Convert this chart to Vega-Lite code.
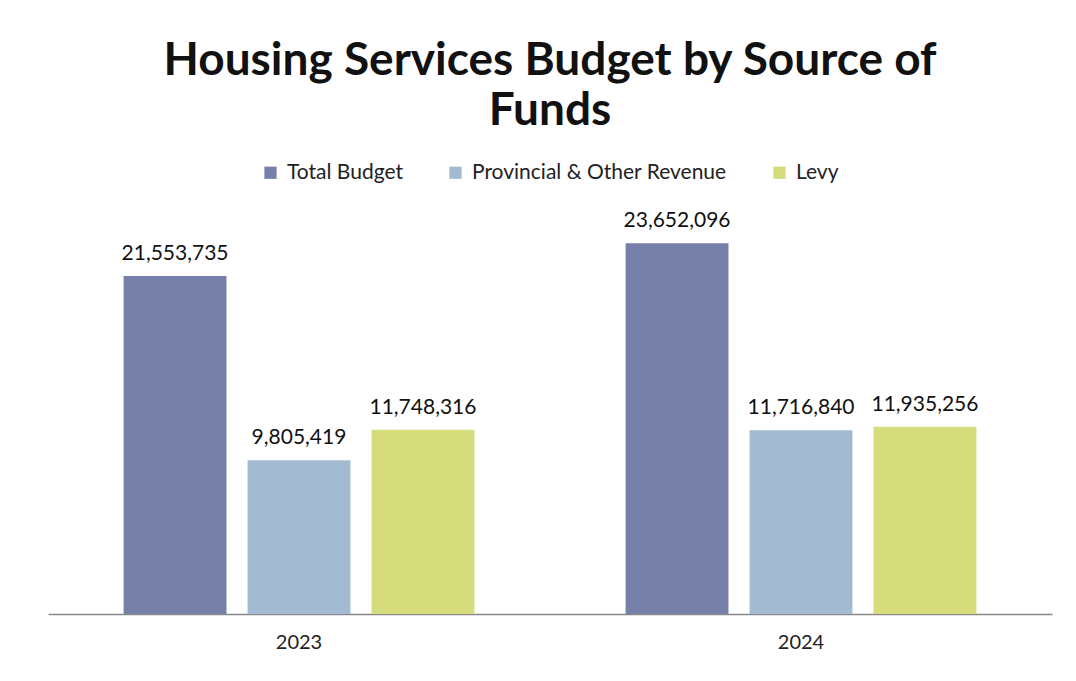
{
  "$schema": "https://vega.github.io/schema/vega-lite/v6.json",
  "width": 1004,
  "height": 392,
  "autosize": {"type": "none"},
  "padding": {"left": 48, "top": 222, "right": 24, "bottom": 67},
  "background": "white",
  "title": {
    "text": ["Housing Services Budget by Source of", "Funds"],
    "font": "Lato",
    "fontSize": 46,
    "fontWeight": "bold",
    "color": "#111111",
    "lineHeight": 50,
    "anchor": "middle",
    "frame": "group",
    "offset": 27
  },
  "data": {
    "values": [
      {"year": "2023", "source": "Total Budget", "amount": 21553735},
      {"year": "2023", "source": "Provincial & Other Revenue", "amount": 9805419},
      {"year": "2023", "source": "Levy", "amount": 11748316},
      {"year": "2024", "source": "Total Budget", "amount": 23652096},
      {"year": "2024", "source": "Provincial & Other Revenue", "amount": 11716840},
      {"year": "2024", "source": "Levy", "amount": 11935256}
    ]
  },
  "encoding": {
    "x": {
      "field": "year", "type": "nominal",
      "scale": {"paddingInner": 0, "paddingOuter": 0},
      "axis": {"title": null, "labelAngle": 0, "ticks": false, "domainColor": "#888888", "domainWidth": 1.5, "labelFont": "Lato", "labelFontSize": 20, "labelColor": "#222222", "labelPadding": 18}
    },
    "xOffset": {
      "field": "source", "type": "nominal",
      "sort": ["Total Budget", "Provincial & Other Revenue", "Levy"],
      "scale": {"paddingInner": 0.17, "paddingOuter": 0.61}
    },
    "y": {
      "field": "amount", "type": "quantitative",
      "scale": {"domain": [0, 25000000], "nice": false},
      "axis": null
    }
  },
  "layer": [
    {
      "mark": {"type": "bar"},
      "encoding": {
        "color": {
          "field": "source", "type": "nominal",
          "sort": ["Total Budget", "Provincial & Other Revenue", "Levy"],
          "scale": {"domain": ["Total Budget", "Provincial & Other Revenue", "Levy"], "range": ["#7680a8", "#a3bbd2", "#d4dc7c"]},
          "legend": {
            "title": null, "orient": "none", "direction": "horizontal",
            "legendX": 212, "legendY": -60,
            "symbolType": "square", "symbolSize": 150, "symbolStrokeWidth": 0,
            "labelFont": "Lato", "labelFontSize": 21, "labelColor": "#222222", "labelLimit": 500,
            "columnPadding": 42, "labelOffset": 6
          }
        }
      }
    },
    {
      "mark": {"type": "text", "baseline": "bottom", "dy": -12, "font": "Lato", "fontSize": 21, "color": "#111111"},
      "encoding": {
        "text": {"field": "amount", "type": "quantitative", "format": ","}
      }
    }
  ],
  "config": {"view": {"stroke": null}}
}
